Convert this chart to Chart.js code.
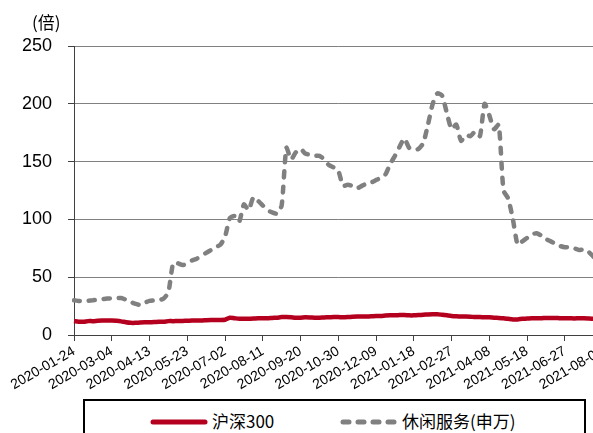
<!DOCTYPE html>
<html>
<head>
<meta charset="utf-8">
<script src="https://cdn.jsdelivr.net/npm/chart.js@4.4.0/dist/chart.umd.min.js"></script>
<style>
  html, body { margin: 0; padding: 0; background: #fff; overflow: hidden; width: 593px; height: 433px; }
  #wrap { position: absolute; left: 0; top: 0; width: 613px; height: 395px; }
  #unit { position: absolute; left: 32px; top: 9px; font: 17px "Noto Sans CJK SC", sans-serif; color: #000; }
  #legend { position: absolute; left: 83px; top: 399px; width: 503px; height: 60px; border: 2px solid #000; box-sizing: border-box; }
  .sw { position: absolute; top: 14px; }
  .txt { position: absolute; top: 8px; font: 17px "Noto Sans CJK SC", sans-serif; color: #000; line-height: 24px; white-space: nowrap; }
</style>
</head>
<body>
<div id="wrap"><canvas id="chart"></canvas></div>
<div id="unit">(倍)</div>
<div id="legend">
  <svg class="sw" style="left:65px" width="58" height="14"><line x1="3" y1="7" x2="55" y2="7" stroke="#B4001E" stroke-width="5" stroke-linecap="round"/></svg>
  <div class="txt" style="left:127px">沪深300</div>
  <svg class="sw" style="left:255px" width="58" height="14"><line x1="3" y1="7" x2="55" y2="7" stroke="#808080" stroke-width="5" stroke-linecap="round" stroke-dasharray="6 9"/></svg>
  <div class="txt" style="left:317px">休闲服务(申万)</div>
</div>
<script>
// x axis: one category every 5 calendar days, a tick label every 40 days
const startDate = "2020-01-24";
const stepDays = 5;
const tickEvery = 8;
const tickLabels = ["2020-01-24", "2020-03-04", "2020-04-13", "2020-05-23", "2020-07-02",
  "2020-08-11", "2020-09-20", "2020-10-30", "2020-12-09", "2021-01-18", "2021-02-27",
  "2021-04-08", "2021-05-18", "2021-06-27", "2021-08-06"];

// 沪深300 PE (倍)
const hs300 = [
  12, 11.5, 11.5, 12, 12, 12.3, 12.5, 12.5,
  12.5, 12.3, 11.8, 11, 10.5, 10.5, 10.8, 11, 11, 11.2, 11.5, 11.5,
  12, 12, 12.2, 12.2, 12.3, 12.5, 12.5, 12.5, 12.8, 13, 13, 13,
  13.2, 15, 14.5, 14,
  14, 14, 14.2, 14.5, 14.5, 14.5, 14.8, 15, 15.5,
  15.5, 15.3, 15, 15, 15.3, 15.2, 15, 15, 15.2, 15.3, 15.5, 15.5,
  15.3, 15.5, 15.8, 16, 16, 16, 16.2, 16.5, 16.5, 16.8, 17, 17,
  17.2, 17.3, 17, 17, 17.2, 17.5, 17.8, 18, 18, 17.5, 17, 16.5,
  16.2, 16, 16, 15.8, 15.5, 15.5, 15.3, 15.3, 15, 14.8, 14.5, 14,
  13.5, 13.5, 14, 14.2, 14.5, 14.5, 14.5, 14.8, 14.8, 14.8, 14.5, 14.5,
  14.5, 14.3, 14.5, 14.5, 14.3, 14, 13, 12.5
];

// 休闲服务(申万) PE (倍)
const leisure = [
  30, 29.5, 29, 29.6, 30, 30.5, 31, 31.5,
  31.7, 32, 32, 30.5, 28.5, 27, 26, 28, 29.5, 30, 30.2, 31.5,
  37, 62, 62, 60.5, 62, 64.5, 66, 68.5, 71, 73.5, 76, 78,
  85, 101, 103, 98, 113, 108, 119, 116, 112, 108, 106, 105, 112,
  162, 152, 158, 161, 157, 156, 155, 155, 152, 147, 145, 142,
  129, 130, 129, 127, 129, 131, 132, 134, 136, 139, 148, 155,
  163, 170, 162, 160, 161, 166, 182, 200, 209, 207, 192, 178,
  182, 168, 173, 172, 176, 172, 200, 190, 178, 182, 125, 118,
  100, 78, 81, 84, 87, 88, 86, 83, 81, 79, 77, 76,
  76, 75, 73.5, 74, 72, 68, 62, 57
];

const RED = "#B4001E";
const GRAY = "#808080";
const AXIS = "#404040";

const dates = hs300.map((_, i) => {
  const d = new Date(startDate + "T00:00:00Z");
  d.setUTCDate(d.getUTCDate() + i * stepDays);
  return d.toISOString().slice(0, 10);
});

const ctx = document.getElementById("chart");
new Chart(ctx, {
  type: "line",
  data: {
    labels: dates,
    datasets: [
      { label: "沪深300", data: hs300, borderColor: RED, borderWidth: 4.5,
        pointRadius: 0, tension: 0.2, fill: false },
      { label: "休闲服务(申万)", data: leisure, borderColor: GRAY, borderWidth: 4.5,
        borderDash: [6, 9], borderCapStyle: "round", pointRadius: 0, tension: 0.2, fill: false }
    ]
  },
  options: {
    animation: false,
    responsive: true,
    maintainAspectRatio: false,
    layout: { padding: { top: 46, right: 0, bottom: 0, left: 0 } },
    plugins: { legend: { display: false }, tooltip: { enabled: false } },
    scales: {
      x: {
        afterFit: s => { s.height = 60; },
        border: { display: true, color: AXIS, width: 1 },
        grid: {
          drawOnChartArea: false,
          tickLength: 6,
          tickColor: c => (c.index % tickEvery === 0 ? AXIS : "transparent")
        },
        ticks: {
          autoSkip: false,
          minRotation: 30,
          maxRotation: 30,
          padding: 2,
          color: "#000",
          font: { family: "Liberation Sans", size: 14 },
          callback: (v, i) => (i % tickEvery === 0 ? tickLabels[i / tickEvery] : "")
        }
      },
      y: {
        min: 0,
        max: 250,
        afterFit: s => { s.width = 74; },
        border: { display: true, color: AXIS, width: 1 },
        grid: {
          color: GRAY,
          lineWidth: 1,
          borderDash: [1, 1],
          tickLength: 6,
          tickColor: AXIS,
          tickBorderDash: []
        },
        ticks: {
          stepSize: 50,
          padding: 16,
          color: "#000",
          font: { family: "Liberation Sans", size: 18 }
        }
      }
    }
  }
});
</script>
</body>
</html>
